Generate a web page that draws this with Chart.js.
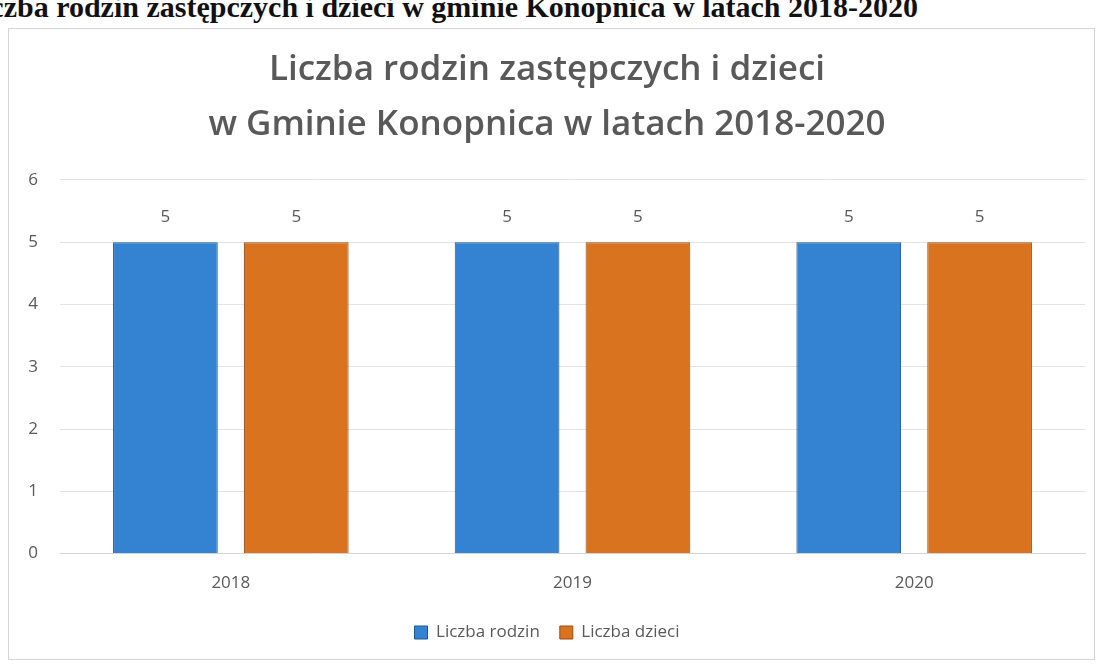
<!DOCTYPE html>
<html>
<head>
<meta charset="utf-8">
<script src="https://cdn.jsdelivr.net/npm/chart.js@4"></script>
<style>
body { margin:0; background:#fff; width:1099px; height:664px; overflow:hidden; position:relative; }
#heading { position:absolute; left:-38px; top:-8px; font:bold 30px/30px "Liberation Serif", serif; color:#111; white-space:nowrap; }
#box { position:absolute; left:8px; top:28px; width:1087px; height:632px; border:1px solid #d4d4d4; box-sizing:border-box; background:#fff; }
</style>
</head>
<body>
<div id="heading">Liczba rodzin zastępczych i dzieci w gminie Konopnica w latach 2018-2020</div>
<div id="box"><canvas id="myBar" width="1085" height="630"></canvas></div>
<script>
// data
var years = ["2018","2019","2020"]
var rodziny = [5,5,5]
var dzieci = [5,5,5]
var yTicks = [0,1,2,3,4,5,6]

var labelPlugin = {
    id: "valueLabels",
    afterDatasetsDraw: function(chart){
        var ctx = chart.ctx
        ctx.save()
        ctx.font = "17px 'Open Sans', sans-serif"
        ctx.fillStyle = "#595959"
        ctx.textAlign = "center"
        ctx.textBaseline = "bottom"
        chart.data.datasets.forEach(function(ds, i){
            chart.getDatasetMeta(i).data.forEach(function(bar, j){
                ctx.fillText(ds.data[j], bar.x, bar.y - 17)
            })
        })
        ctx.restore()
    }
}

var element = document.getElementById("myBar")
var chart = new Chart(element, {
    type: "bar",
    data: {
        labels: years,
        datasets: [
            {
                label: "Liczba rodzin",
                data: rodziny,
                backgroundColor: "#3482d2",
                borderColor: "#1d5690",
                borderWidth: 1
            },
            {
                label: "Liczba dzieci",
                data: dzieci,
                backgroundColor: "#d9731f",
                borderColor: "#9a4c14",
                borderWidth: 1
            }
        ]
    },
    options: {
        responsive: false,
        animation: false,
        layout: { padding: { left: 0, right: 9, top: 0, bottom: 8 } },
        datasets: { bar: { categoryPercentage: 0.766, barPercentage: 0.8 } },
        plugins: {
            title: {
                display: true,
                text: ["Liczba rodzin zastępczych i dzieci", "w Gminie Konopnica w latach 2018-2020"],
                color: "#595959",
                font: { family: "'Open Sans', sans-serif", size: 35, weight: "600", lineHeight: 1.57 },
                padding: { top: 14, bottom: 27 }
            },
            legend: {
                position: "bottom",
                labels: {
                    color: "#595959",
                    font: { family: "'Open Sans', sans-serif", size: 17 },
                    boxWidth: 13,
                    boxHeight: 13,
                    padding: 20
                }
            },
            tooltip: { enabled: false }
        },
        scales: {
            x: {
                grid: { display: false },
                border: { display: true, color: "#d4d4d4" },
                ticks: { color: "#595959", font: { family: "'Open Sans', sans-serif", size: 17 }, padding: 11 }
            },
            y: {
                min: 0,
                max: 6,
                afterFit: function(scale){ scale.width = 51 },
                afterBuildTicks: function(scale){
                    scale.ticks = yTicks.map(function(v){ return { value: v } })
                },
                grid: { color: "#e3e3e3", drawTicks: false },
                border: { display: false },
                ticks: { color: "#595959", font: { family: "'Open Sans', sans-serif", size: 17 }, padding: 22 }
            }
        }
    },
    plugins: [labelPlugin]
})
</script>
</body>
</html>
